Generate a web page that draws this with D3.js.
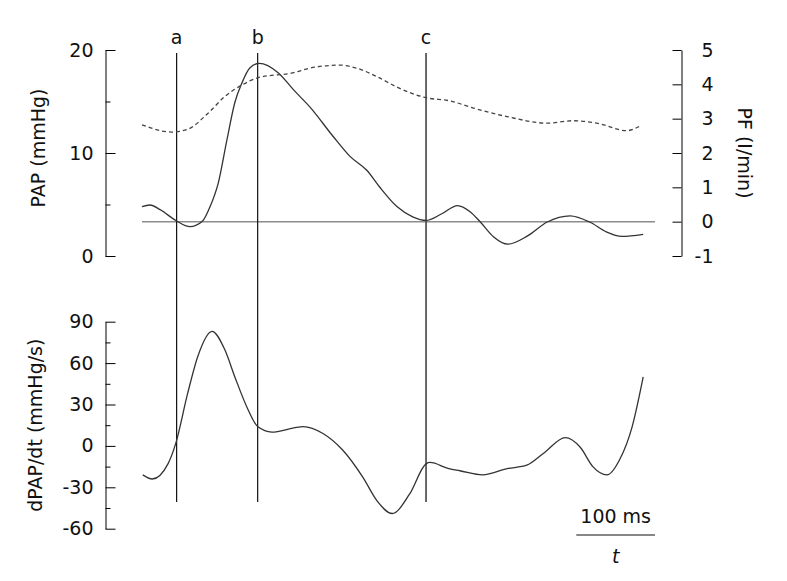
<!DOCTYPE html>
<html>
<head>
<meta charset="utf-8">
<script src="https://cdn.jsdelivr.net/npm/d3@7"></script>
<style>
    body { margin: 0; background: #fff; }
    svg { font-family: "DejaVu Sans", Verdana, sans-serif; }
    .axis-title { font-size: 19px; fill: #111; }
    .tick text { font-size: 19px; fill: #111; }
</style>
</head>
<body>
<div id="chart"></div>
<script>
// time in ms
const papTime = [0, 10, 23, 43, 61, 77, 86, 97, 108, 118, 127, 137, 149, 173, 193, 213, 243, 264, 286, 302, 324, 344, 361, 381, 401, 417, 430, 447, 465, 490, 515, 544, 569, 590, 610, 637];
const papValue = [4.8, 4.95, 4.5, 3.45, 2.85, 3.4, 4.7, 7.1, 11.3, 14.9, 16.8, 18.25, 18.7, 17.8, 16.1, 14.5, 11.6, 9.7, 8.3, 6.7, 4.8, 3.8, 3.45, 4.1, 4.9, 4.3, 3.3, 1.85, 1.15, 1.95, 3.3, 3.9, 3.3, 2.35, 1.9, 2.1];

const pfTime = [0, 38, 58, 84, 105, 127, 147, 193, 213, 252, 273, 299, 324, 361, 391, 421, 464, 515, 548, 578, 616, 634];
const pfValue = [2.82, 2.61, 2.69, 3.16, 3.64, 3.98, 4.19, 4.34, 4.47, 4.56, 4.47, 4.22, 3.92, 3.61, 3.52, 3.31, 3.06, 2.87, 2.94, 2.87, 2.65, 2.8];

const dpapTime = [1, 13, 33, 43, 58, 71, 89, 105, 118, 135, 147, 165, 193, 205, 230, 255, 281, 299, 318, 340, 361, 366, 390, 404, 433, 464, 489, 510, 538, 557, 573, 591, 607, 623, 637];
const dpapValue = [-21, -24, -13, 2, 38, 65, 83, 70, 50, 26, 14, 10, 13, 14, 9, -3, -23, -40, -49, -35, -13, -12, -16.5, -18, -21, -16.5, -14, -5.5, 6, -1, -15, -21, -10, 14, 50];

const markerLabels = ["a", "b", "c"];
const markerTimes = [44, 147, 361];

const papTicks = [0, 10, 20];
const papMinorTicks = [5, 15];
const pfTicks = [-1, 0, 1, 2, 3, 4, 5];
const dpapTicks = [-60, -30, 0, 30, 60, 90];
const dpapMinorTicks = [-45, -15, 15, 45, 75];

const timeDomain = [0, 652];
const scaleBarMs = 100;

function renderChart() {
    const width = 787;
    const height = 581;
    const leftAxisX = 105.5;
    const rightAxisX = 681.5;
    const plainNumber = function (d) { return String(d); };

    const svg = d3.select("#chart").append("svg")
        .attr("width", width)
        .attr("height", height);

    const xScale = d3.scaleLinear().domain(timeDomain).range([142, 655]);
    const papScale = d3.scaleLinear().domain([0, 20]).range([256, 50]);
    const pfScale = d3.scaleLinear().domain([-1, 5]).range([256, 50]);
    const dpapScale = d3.scaleLinear().domain([-60, 90]).range([528.7, 321.7]);

    // left axis, top panel
    svg.append("g")
        .attr("transform", `translate(${leftAxisX}, 0)`)
        .call(d3.axisLeft(papScale).tickValues(papTicks).tickFormat(plainNumber)
            .tickSizeInner(-10).tickSizeOuter(0).tickPadding(12));
    svg.append("g")
        .attr("transform", `translate(${leftAxisX}, 0)`)
        .call(d3.axisLeft(papScale).tickValues(papMinorTicks).tickSize(-5).tickFormat(""))
        .call(g => g.select(".domain").remove());

    // right axis, top panel
    svg.append("g")
        .attr("transform", `translate(${rightAxisX}, 0)`)
        .call(d3.axisRight(pfScale).tickValues(pfTicks).tickFormat(plainNumber)
            .tickSizeInner(-9).tickSizeOuter(0))
        .call(g => g.selectAll(".tick text").attr("x", 32).attr("text-anchor", "end"));

    // left axis, bottom panel
    svg.append("g")
        .attr("transform", `translate(${leftAxisX}, 0)`)
        .call(d3.axisLeft(dpapScale).tickValues(dpapTicks).tickFormat(plainNumber)
            .tickSizeInner(-10).tickSizeOuter(0).tickPadding(12));
    svg.append("g")
        .attr("transform", `translate(${leftAxisX}, 0)`)
        .call(d3.axisLeft(dpapScale).tickValues(dpapMinorTicks).tickSize(-5).tickFormat(""))
        .call(g => g.select(".domain").remove());

    svg.selectAll(".tick text").style("font-family", "DejaVu Sans, Verdana, sans-serif");

    // axis titles
    svg.append("text")
        .attr("class", "axis-title")
        .attr("transform", `translate(45, ${papScale(10) - 5}) rotate(-90)`)
        .attr("text-anchor", "middle")
        .text("PAP (mmHg)");

    svg.append("text")
        .attr("class", "axis-title")
        .attr("transform", `translate(738, ${pfScale(2)}) rotate(90)`)
        .attr("text-anchor", "middle")
        .text("PF (I/min)");

    svg.append("text")
        .attr("class", "axis-title")
        .attr("transform", `translate(42, ${dpapScale(15)}) rotate(-90)`)
        .attr("text-anchor", "middle")
        .text("dPAP/dt (mmHg/s)");

    // zero flow baseline
    svg.append("line")
        .attr("x1", xScale(timeDomain[0]))
        .attr("x2", xScale(timeDomain[1]))
        .attr("y1", pfScale(0))
        .attr("y2", pfScale(0))
        .attr("stroke", "#8c8c8c")
        .attr("stroke-width", 1.5);

    // marker lines a, b, c
    markerTimes.forEach(function (t, i) {
        svg.append("line")
            .attr("x1", xScale(t))
            .attr("x2", xScale(t))
            .attr("y1", 53)
            .attr("y2", 502)
            .attr("stroke", i == 2 ? "#444" : "#111")
            .attr("stroke-width", i == 2 ? 1.6 : 1.2);
        svg.append("text")
            .attr("class", "axis-title")
            .attr("x", xScale(t))
            .attr("y", 44)
            .attr("text-anchor", "middle")
            .text(markerLabels[i]);
    });

    // curves
    const papLine = d3.line()
        .x(function (d) { return xScale(d[0]); })
        .y(function (d) { return papScale(d[1]); })
        .curve(d3.curveMonotoneX);
    svg.append("path")
        .datum(d3.zip(papTime, papValue))
        .attr("fill", "none")
        .attr("stroke", "#333")
        .attr("stroke-width", 1.3)
        .attr("d", papLine);

    const pfLine = d3.line()
        .x(function (d) { return xScale(d[0]); })
        .y(function (d) { return pfScale(d[1]); })
        .curve(d3.curveMonotoneX);
    svg.append("path")
        .datum(d3.zip(pfTime, pfValue))
        .attr("fill", "none")
        .attr("stroke", "#444")
        .attr("stroke-width", 1.3)
        .attr("stroke-dasharray", "4,3")
        .attr("d", pfLine);

    const dpapLine = d3.line()
        .x(function (d) { return xScale(d[0]); })
        .y(function (d) { return dpapScale(d[1]); })
        .curve(d3.curveMonotoneX);
    svg.append("path")
        .datum(d3.zip(dpapTime, dpapValue))
        .attr("fill", "none")
        .attr("stroke", "#333")
        .attr("stroke-width", 1.3)
        .attr("d", dpapLine);

    // time scale bar
    const barStart = xScale(timeDomain[1] - scaleBarMs);
    const barEnd = xScale(timeDomain[1]);
    svg.append("line")
        .attr("x1", barStart)
        .attr("x2", barEnd)
        .attr("y1", 535)
        .attr("y2", 535)
        .attr("stroke", "#111")
        .attr("stroke-width", 1.2);
    svg.append("text")
        .attr("class", "axis-title")
        .attr("x", (barStart + barEnd) / 2)
        .attr("y", 523)
        .attr("text-anchor", "middle")
        .text(scaleBarMs + " ms");
    svg.append("text")
        .attr("class", "axis-title")
        .attr("x", (barStart + barEnd) / 2)
        .attr("y", 563)
        .attr("text-anchor", "middle")
        .style("font-style", "italic")
        .text("t");
}

renderChart();
</script>
</body>
</html>
